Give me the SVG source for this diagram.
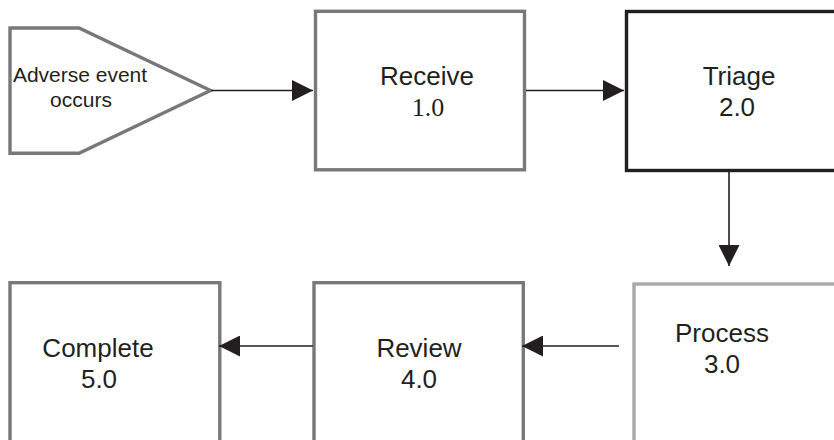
<svg xmlns="http://www.w3.org/2000/svg" width="834" height="440" viewBox="0 0 834 440">
  <style>
    .box { fill: #ffffff; stroke: #77787b; stroke-width: 3.4; }
    .box-dark { fill: #ffffff; stroke: #231f20; stroke-width: 3.4; }
    .box-light { fill: #ffffff; stroke: #a7a9ac; stroke-width: 3.4; }
    .label { font-family: "Liberation Sans", Arial, sans-serif; font-size: 26px; fill: #231f20; text-anchor: middle; }
    .label-small { font-family: "Liberation Sans", Arial, sans-serif; font-size: 21px; fill: #231f20; text-anchor: middle; }
    .num-serif { font-family: "Liberation Serif", "Times New Roman", serif; font-size: 26px; fill: #231f20; text-anchor: middle; }
    .flow { fill: none; stroke: #231f20; stroke-width: 1.6; }
  </style>
  <defs>
    <marker id="arrowhead" markerUnits="userSpaceOnUse" markerWidth="21" markerHeight="21" viewBox="0 0 20 20" refX="20" refY="10" orient="auto">
      <path d="M0,0 L20,10 L0,20 Z" fill="#231f20"/>
    </marker>
  </defs>

  <rect width="834" height="440" fill="#ffffff"/>

  <!-- start event -->
  <g id="node-start">
    <path class="box" d="M10,28 L79,28 L210.5,90.5 L79,153.3 L10,153.3 Z"/>
    <text class="label-small" x="80" y="82">Adverse event</text>
    <text class="label-small" x="81" y="107">occurs</text>
  </g>

  <g id="node-receive">
    <rect class="box" x="315.5" y="11.3" width="209" height="158.5"/>
    <text class="label" x="427" y="85">Receive</text>
    <text class="num-serif" x="428" y="116">1.0</text>
  </g>

  <g id="node-triage">
    <rect class="box-dark" x="626.5" y="11.5" width="220" height="159"/>
    <text class="label" x="739" y="85">Triage</text>
    <text class="label" x="737" y="116">2.0</text>
  </g>

  <g id="node-process">
    <rect class="box-light" x="634" y="284" width="220" height="180"/>
    <text class="label" x="722" y="342">Process</text>
    <text class="label" x="722" y="373">3.0</text>
  </g>

  <g id="node-review">
    <rect class="box" x="314" y="282.7" width="209.3" height="180"/>
    <text class="label" x="419" y="357">Review</text>
    <text class="label" x="419" y="388">4.0</text>
  </g>

  <g id="node-complete">
    <rect class="box" x="10" y="282.7" width="209.8" height="180"/>
    <text class="label" x="98" y="357">Complete</text>
    <text class="label" x="99" y="388">5.0</text>
  </g>

  <!-- connectors -->
  <g id="connectors">
    <line class="flow" x1="211" y1="90.5" x2="313" y2="90.5" marker-end="url(#arrowhead)"/>
    <line class="flow" x1="526" y1="90.5" x2="624" y2="90.5" marker-end="url(#arrowhead)"/>
    <line class="flow" x1="729" y1="172" x2="729" y2="266" marker-end="url(#arrowhead)"/>
    <line class="flow" x1="619" y1="346" x2="522" y2="346" marker-end="url(#arrowhead)"/>
    <line class="flow" x1="313" y1="346" x2="219" y2="346" marker-end="url(#arrowhead)"/>
  </g>
</svg>
